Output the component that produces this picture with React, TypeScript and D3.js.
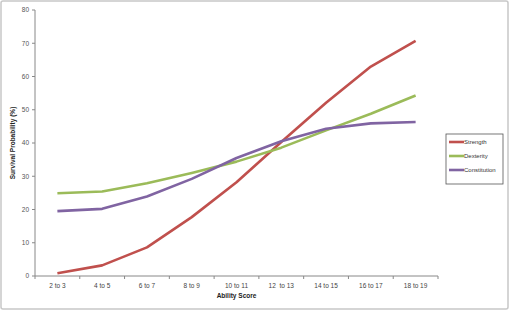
import React from "react";
import * as d3 from "d3";

const categories = ["2 to 3", "4 to 5", "6 to 7", "8 to 9", "10 to 11", "12  to 13", "14 to 15", "16 to 17", "18 to 19"];
const strength = [0.8, 3.2, 8.6, 17.7, 28.2, 40.3, 52.1, 63.0, 70.7];
const dexterity = [24.9, 25.4, 27.9, 31.0, 34.4, 38.6, 43.8, 48.8, 54.3];
const constitution = [19.5, 20.2, 23.9, 29.2, 35.5, 40.5, 44.3, 45.9, 46.3];
const yTicks = [0, 10, 20, 30, 40, 50, 60, 70, 80];
const seriesNames = ["Strength", "Dexterity", "Constitution"];
const seriesColors = ["#C0504D", "#9BBB59", "#8064A2"];

export default function App() {
  const W = 510, H = 311;
  const left = 35, right = 438, top = 10, bottom = 276;
  const x = d3.scaleBand<string>().domain(categories).range([left, right]);
  const y = d3.scaleLinear().domain([0, 80]).range([bottom, top]);
  const series = [strength, dexterity, constitution];
  const line = d3.line<number>()
    .x((_, i) => (x(categories[i]) as number) + x.bandwidth() / 2)
    .y((d) => y(d));
  const font = "Liberation Sans, Arial, sans-serif";
  const boundaries = categories.map((c) => x(c) as number).concat([right]);
  return (
    <svg width={W} height={H} style={{ position: "absolute", left: 0, top: 0, display: "block" }} fontFamily={font}>
      <rect x={0} y={0} width={W} height={H} fill="#fff" />
      <rect x={1} y={1} width={W - 3} height={H - 3} fill="#fff" stroke="#c8c8c8" strokeWidth={1.5} rx={2} />
      {/* y axis */}
      <line x1={left} x2={left} y1={top} y2={bottom} stroke="#888" strokeWidth={1} />
      {yTicks.map((t) => (
        <g key={t}>
          <line x1={left - 3} x2={left} y1={y(t)} y2={y(t)} stroke="#888" />
          <text x={left - 6} y={y(t)} dy="0.35em" textAnchor="end" fontSize={6.5} fill="#555">{t}</text>
        </g>
      ))}
      {/* x axis */}
      <line x1={left} x2={right} y1={bottom} y2={bottom} stroke="#888" strokeWidth={1} />
      {boundaries.map((b, i) => (
        <line key={i} x1={b} x2={b} y1={bottom} y2={bottom + 3} stroke="#888" />
      ))}
      {categories.map((c) => (
        <text key={c} x={(x(c) as number) + x.bandwidth() / 2} y={bottom + 12} textAnchor="middle" fontSize={6.5} fill="#444" xmlSpace="preserve">{c}</text>
      ))}
      <text x={(left + right) / 2} y={bottom + 22} textAnchor="middle" fontSize={6.5} fontWeight="bold" fill="#222">Ability Score</text>
      <text transform={`translate(15,${(top + bottom) / 2}) rotate(-90)`} textAnchor="middle" fontSize={6.5} fontWeight="bold" fill="#222">Survival Probability (%)</text>
      {series.map((s, i) => (
        <path key={i} d={line(s) as string} fill="none" stroke={seriesColors[i]} strokeWidth={2.6} strokeLinejoin="round" />
      ))}
      {/* legend */}
      <rect x={446} y={134} width={57} height={50} fill="#fff" stroke="#555" strokeWidth={0.8} />
      {seriesNames.map((n, i) => (
        <g key={n}>
          <line x1={449} x2={464} y1={142 + i * 14} y2={142 + i * 14} stroke={seriesColors[i]} strokeWidth={2.6} />
          <text x={464} y={142 + i * 14} dy="0.35em" fontSize={6} fill="#333">{n}</text>
        </g>
      ))}
    </svg>
  );
}
